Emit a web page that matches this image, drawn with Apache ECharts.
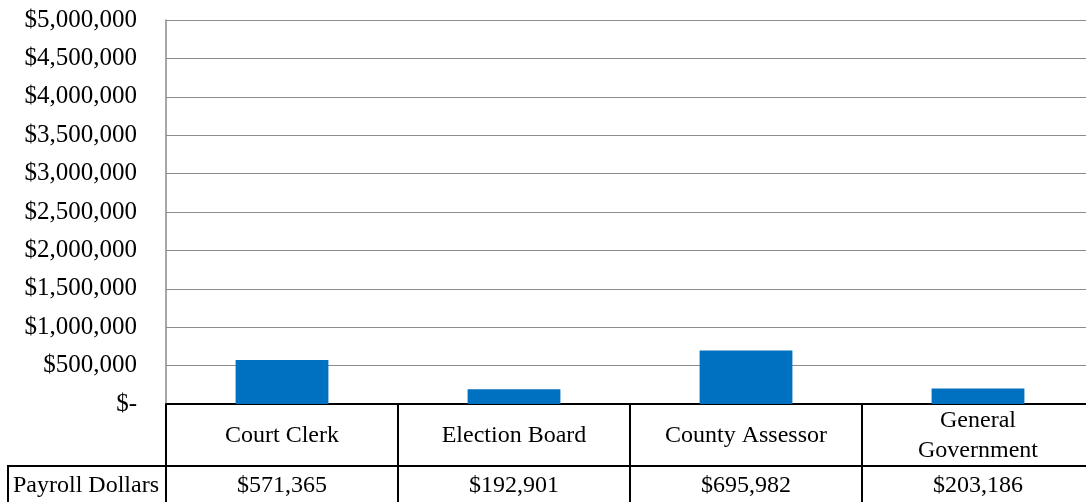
<!DOCTYPE html>
<html><head><meta charset="utf-8">
<script src="https://cdn.jsdelivr.net/npm/echarts@6/dist/echarts.min.js"></script>
<style>html,body{margin:0;padding:0;background:#fff;overflow:hidden;width:1086px;height:502px}#c{width:1096px;height:502px}</style>
</head><body><div id="c"></div>
<script>
var categories = ['Court Clerk', 'Election Board', 'County Assessor', 'General\nGovernment'];
var payroll = [571365, 192901, 695982, 203186];
var seriesName = 'Payroll Dollars';
var yMin = 0, yMax = 5000000, yStep = 500000;

function money(v){ return v === 0 ? '$-' : '$' + v.toLocaleString('en-US'); }
var font = 'Liberation Serif';
var chart = echarts.init(document.getElementById('c'));
chart.setOption({
  animation: false,
  grid: { left: 166, top: 20, right: 2, bottom: 98, containLabel: false },
  xAxis: [{
    type: 'category', data: categories, position: 'bottom',
    axisLine: { show: true, lineStyle: { color: '#000', width: 2 } },
    axisTick: { show: true, length: 62, interval: 0, lineStyle: { color: '#000', width: 2 } },
    axisLabel: { interval: 0, margin: 32, verticalAlign: 'middle', lineHeight: 30,
      color: '#000', fontFamily: font, fontSize: 24 },
    splitLine: { show: false }
  }, {
    type: 'category', data: payroll.map(money), position: 'bottom', offset: 62,
    axisLine: { show: true, lineStyle: { color: '#000', width: 2 } },
    axisTick: { show: true, length: 40, interval: 0, lineStyle: { color: '#000', width: 2 } },
    axisLabel: { interval: 0, margin: 20, verticalAlign: 'middle',
      color: '#000', fontFamily: font, fontSize: 24 },
    splitLine: { show: false }
  }],
  yAxis: {
    type: 'value', min: yMin, max: yMax, interval: yStep,
    axisLine: { show: true, lineStyle: { color: '#8a8a8a', width: 1.5 } },
    axisTick: { show: false },
    axisLabel: { formatter: money, margin: 29, color: '#000', fontFamily: font, fontSize: 25 },
    splitLine: { show: true, lineStyle: { color: '#8c8c8c', width: 1.2 } }
  },
  series: [{
    name: seriesName, type: 'bar', data: payroll, xAxisIndex: 0,
    barWidth: '40%', itemStyle: { color: '#0070C0' }
  }],
  graphic: [{
    type: 'rect', shape: { x: 8, y: 466, width: 158, height: 44 },
    style: { fill: 'none', stroke: '#000', lineWidth: 2 }
  }, {
    type: 'text', x: 86, y: 486,
    style: { text: seriesName, fill: '#000', font: '24px "Liberation Serif"', align: 'center', verticalAlign: 'middle' }
  }]
});
</script></body></html>
